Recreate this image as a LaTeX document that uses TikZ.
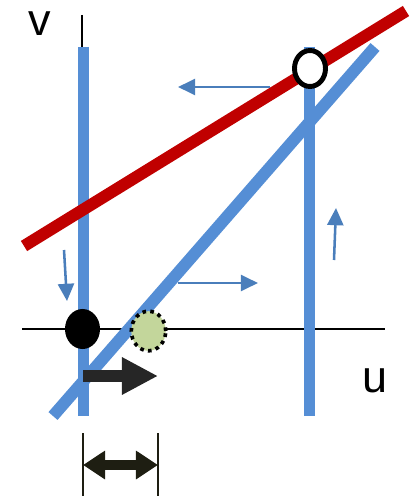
\documentclass[tikz,border=0pt]{standalone}
\usepackage{fontspec}
\setmainfont{Liberation Sans}
\usetikzlibrary{arrows.meta, shapes.geometric, calc}

\definecolor{lineblue}{RGB}{85,142,213}
\definecolor{linered}{RGB}{192,0,0}
\definecolor{flowblue}{RGB}{74,126,187}
\definecolor{startgreen}{RGB}{195,214,155}
\definecolor{pushgray}{RGB}{38,38,38}
\definecolor{spandark}{RGB}{30,30,18}

\begin{document}
\begin{tikzpicture}[
  x=0.025cm, y=-0.025cm,
  axis/.style={draw=black, line width=1.1pt},
  nullcline/.style={draw=#1, line width=8.5pt},
  flow/.style={-{Triangle[length=4.3mm, width=4mm]}, flowblue, line width=1.8pt},
  statept/.style={
    ellipse, inner sep=0pt,
    minimum width=#1,
  },
  axislabel/.style={font=\fontsize{32}{38}\selectfont, inner sep=0pt},
]
\useasboundingbox (0,0) rectangle (416,499);

% axes
\coordinate (vtop)   at (82,15);
\coordinate (vbot)   at (82,416);
\coordinate (uleft)  at (22,329);
\coordinate (uright) at (385,329);
\draw[axis] (vtop) -- (vbot);
\draw[axis] (uleft) -- (uright);

\node[axislabel] (vlabel) at (40,24)  {v};
\node[axislabel] (ulabel) at (375,381) {u};

% nullclines
\coordinate (ltop) at (83.5,47);
\coordinate (lbot) at (83.5,416);
\coordinate (rtop) at (309.5,47);
\coordinate (rbot) at (309.5,416);
\coordinate (dbot) at (53,416);
\coordinate (dtop) at (375,47);
\coordinate (redl) at (24,246);
\coordinate (redr) at (406,11);
\draw[nullcline=lineblue] (ltop) -- (lbot);
\draw[nullcline=lineblue] (rtop) -- (rbot);
\draw[nullcline=lineblue] (dbot) -- (dtop);
\draw[nullcline=linered]  (redl) -- (redr);

% flow arrows
\coordinate (flowAs) at (270,87);  \coordinate (flowAe) at (178,87);
\coordinate (flowBs) at (64,250);  \coordinate (flowBe) at (67,301);
\coordinate (flowCs) at (178,283); \coordinate (flowCe) at (258,283);
\coordinate (flowDs) at (334,260); \coordinate (flowDe) at (336,208);
\foreach \f in {A, B, C, D}
  \draw[flow] (flow\f s) -- (flow\f e);

% states
\node[statept=0.775cm, minimum height=0.9cm, draw=black, line width=3.5pt,
  fill=white] (fixpt) at (310,68.5) {};
\node[statept=0.875cm, minimum height=1.0cm, fill=black] (restpt) at (82.5,329) {};
\node[statept=0.86cm, minimum height=0.99cm, fill=startgreen, draw=black,
  line width=2.6pt, dash pattern=on 2.6pt off 3pt] (startpt) at (148.5,331) {};

% push
\coordinate (pushs) at (83,376);
\coordinate (pushe) at (158,376);
\draw[-{Triangle[length=9mm, width=8.75mm]}, pushgray, line width=9.2pt]
  (pushs) -- (pushe);

% span
\coordinate (spanlt) at (83,433);  \coordinate (spanlb) at (83,496);
\coordinate (spanrt) at (158,433); \coordinate (spanrb) at (158,496);
\coordinate (spanl)  at (83,465);  \coordinate (spanr)  at (158,465);
\draw[spandark, line width=1.1pt] (spanlt) -- (spanlb);
\draw[spandark, line width=1.1pt] (spanrt) -- (spanrb);
\draw[{Triangle[length=5.5mm, width=6.8mm]}-{Triangle[length=5.5mm, width=6.8mm]},
  spandark, line width=7pt] (spanl) -- (spanr);
\end{tikzpicture}
\end{document}
